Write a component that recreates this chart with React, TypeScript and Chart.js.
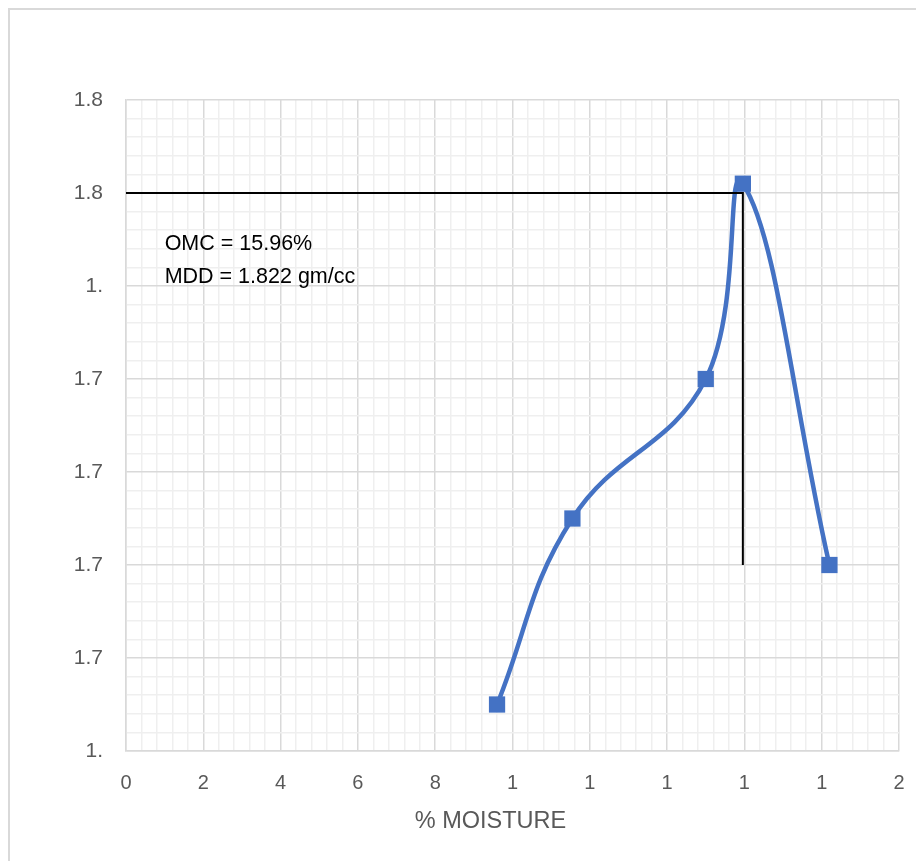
import { useEffect, useRef } from 'react';
import { Chart, registerables } from 'chart.js';

Chart.register(...registerables);

// ---- data ----
const moisture = [9.6, 11.55, 15.0, 15.96, 18.2];
const dryDensity = [1.71, 1.75, 1.78, 1.822, 1.74];

const refLineX = [0, 15.96, 15.96];
const refLineY = [1.82, 1.82, 1.74];

const xTickLabels = ['0', '2', '4', '6', '8', '1', '1', '1', '1', '1', '2'];
const yTickLabels = ['1.', '1.7', '1.7', '1.7', '1.7', '1.', '1.8', '1.8']; // bottom -> top

const notes = ['OMC = 15.96%', 'MDD = 1.822 gm/cc'];
const noteX = [1, 1];
const noteY = [1.809, 1.802];

const xAxisTitle = '% MOISTURE';

const X_MIN = 0;
const X_MAX = 20;
const X_STEP = 2;
const Y_MIN = 1.7;
const Y_MAX = 1.84;
const Y_STEP = 0.02;
const MINOR_DIV = 5;

const FONT = '"Liberation Sans", Arial, sans-serif';

const makeTicks = (min: number, max: number, step: number) => {
  const n = Math.round((max - min) / (step / MINOR_DIV));
  const out: { value: number }[] = [];
  for (let i = 0; i <= n; i++) out.push({ value: min + (i * step) / MINOR_DIV });
  return out;
};

const gridColor = (ctx: any) => (ctx.index % MINOR_DIV === 0 ? '#d9d9d9' : '#efefef');

export default function App() {
  const ref = useRef<HTMLCanvasElement | null>(null);

  useEffect(() => {
    if (!ref.current) return;

    const textPlugin = {
      id: 'texts',
      afterDatasetsDraw(chart: any) {
        const { ctx, chartArea, scales } = chart;
        ctx.save();
        ctx.fillStyle = '#000000';
        ctx.font = `21.5px ${FONT}`;
        ctx.textAlign = 'left';
        ctx.textBaseline = 'middle';
        notes.forEach((t, i) => {
          ctx.fillText(t, scales.x.getPixelForValue(noteX[i]), scales.y.getPixelForValue(noteY[i]));
        });
        ctx.fillStyle = '#595959';
        ctx.font = `23.5px ${FONT}`;
        ctx.textAlign = 'center';
        ctx.fillText(xAxisTitle, (chartArea.left + chartArea.right) / 2 - 22, chartArea.bottom + 71);
        ctx.restore();
      },
    };

    const chart = new Chart(ref.current, {
      type: 'scatter',
      data: {
        datasets: [
          {
            label: 'Dry density',
            data: moisture.map((x, i) => ({ x, y: dryDensity[i] })),
            showLine: true,
            borderColor: '#4472C4',
            backgroundColor: '#4472C4',
            borderWidth: 4.5,
            tension: 0.42,
            pointStyle: 'rect',
            pointRadius: 11.5,
            pointHoverRadius: 11.5,
            pointBorderWidth: 0,
            order: 2,
          },
          {
            label: 'OMC / MDD',
            data: refLineX.map((x, i) => ({ x, y: refLineY[i] })),
            showLine: true,
            borderColor: '#000000',
            borderWidth: 2,
            pointRadius: 0,
            tension: 0,
            clip: 4,
            order: 1,
          },
        ],
      },
      options: {
        responsive: false,
        animation: false,
        devicePixelRatio: 1,
        layout: { padding: { top: 90, right: 17, left: 0, bottom: 0 } },
        plugins: {
          legend: { display: false },
          tooltip: { enabled: false },
        },
        scales: {
          x: {
            type: 'linear',
            min: X_MIN,
            max: X_MAX,
            afterBuildTicks: (scale: any) => {
              scale.ticks = makeTicks(X_MIN, X_MAX, X_STEP);
            },
            afterFit: (scale: any) => {
              scale.height = 109;
              scale.paddingLeft = 0;
              scale.paddingRight = 0;
            },
            ticks: {
              autoSkip: false,
              maxRotation: 0,
              padding: 20,
              color: '#595959',
              font: { family: FONT, size: 20 },
              callback: (_v: any, index: number) =>
                index % MINOR_DIV === 0 ? xTickLabels[index / MINOR_DIV] : '',
            },
            grid: { color: gridColor, lineWidth: 1.5, drawTicks: false },
            border: { color: '#d9d9d9', width: 1.5 },
          },
          y: {
            type: 'linear',
            min: Y_MIN,
            max: Y_MAX,
            afterBuildTicks: (scale: any) => {
              scale.ticks = makeTicks(Y_MIN, Y_MAX, Y_STEP);
            },
            afterFit: (scale: any) => {
              scale.width = 116;
            },
            ticks: {
              autoSkip: false,
              padding: 23,
              color: '#595959',
              font: { family: FONT, size: 21 },
              callback: (_v: any, index: number) =>
                index % MINOR_DIV === 0 ? yTickLabels[index / MINOR_DIV] : '',
            },
            grid: { color: gridColor, lineWidth: 1.5, drawTicks: false },
            border: { color: '#d9d9d9', width: 1.5 },
          },
        },
      },
      plugins: [textPlugin],
    } as any);

    return () => chart.destroy();
  }, []);

  return (
    <div
      style={{
        position: 'relative',
        width: 916,
        height: 853,
        boxSizing: 'border-box',
        borderLeft: '2px solid #d9d9d9',
        borderTop: '2px solid #d9d9d9',
        background: '#ffffff',
      }}
    >
      <canvas
        ref={ref}
        width={906}
        height={850}
        style={{ position: 'absolute', left: 0, top: 0, width: 906, height: 850 }}
      />
    </div>
  );
}
